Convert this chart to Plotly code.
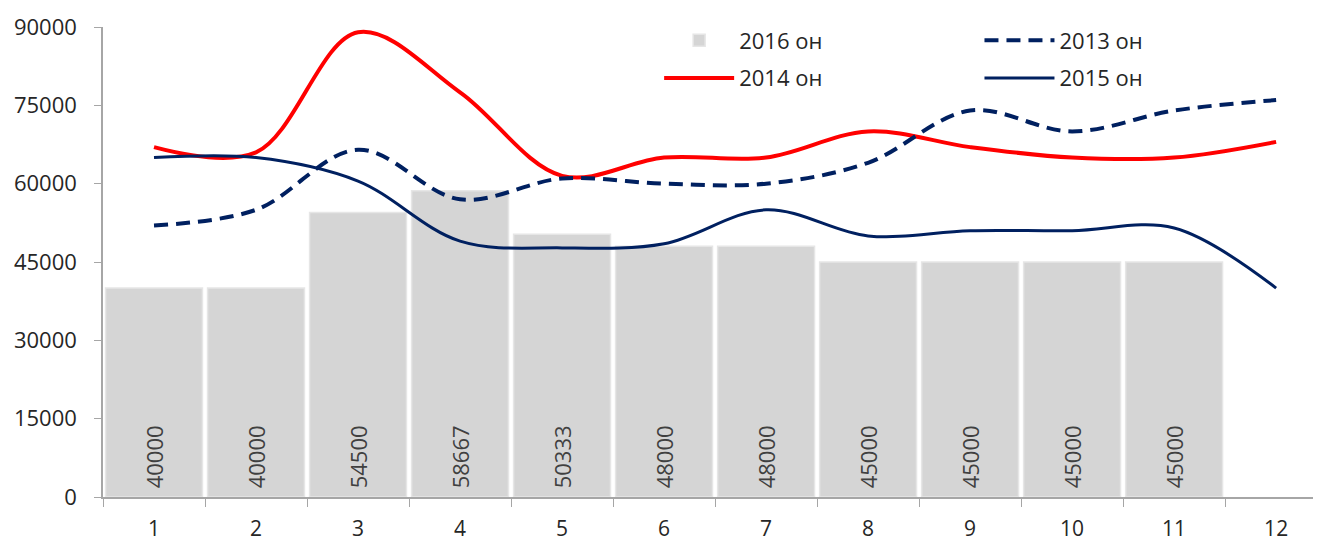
import plotly.graph_objects as go

months = [str(m) for m in range(1, 13)]
bars_2016 = [40000, 40000, 54500, 58667, 50333, 48000, 48000, 45000, 45000, 45000, 45000]
line_2013 = [52000, 55000, 66500, 57000, 61000, 60000, 60000, 64000, 74000, 70000, 74000, 76000]
line_2014 = [67000, 66000, 89000, 77500, 61500, 65000, 65000, 70000, 67000, 65000, 65000, 68000]
line_2015 = [65000, 65000, 60500, 49000, 47700, 48500, 55000, 50000, 51000, 51000, 51500, 40000]
y_ticks = [0, 15000, 30000, 45000, 60000, 75000, 90000]

FONT = "Open Sans"
NAVY = "#002060"
RED = "#ff0000"
TXT = "#262626"

fig = go.Figure()

# leading nbsp lifts the rotated label a little off the axis
fig.add_trace(go.Bar(
    x=months[:len(bars_2016)],
    y=bars_2016,
    name="2016 он",
    marker=dict(color="#d5d5d5", line=dict(color="#e6e6e6", width=1.5)),
    text=["\u00a0" + str(v) for v in bars_2016],
    textposition="inside",
    insidetextanchor="start",
    textangle=-90,
    textfont=dict(family=FONT, size=22, color="#404040"),
    legend="legend",
    legendgroup="a",
))

fig.add_trace(go.Scatter(
    x=months, y=line_2014, name="2014 он", mode="lines",
    line=dict(color=RED, width=4, shape="spline", smoothing=1),
    cliponaxis=False, legend="legend", legendgroup="b",
))

fig.add_trace(go.Scatter(
    x=months, y=line_2013, name="2013 он", mode="lines",
    line=dict(color=NAVY, width=4, dash="14px,8px", shape="spline", smoothing=1),
    cliponaxis=False, legend="legend2", legendgroup="c",
))

fig.add_trace(go.Scatter(
    x=months, y=line_2015, name="2015 он", mode="lines",
    line=dict(color=NAVY, width=3, shape="spline", smoothing=1),
    cliponaxis=False, legend="legend2", legendgroup="d",
))

legend_style = dict(
    font=dict(family=FONT, size=22, color=TXT),
    bgcolor="rgba(0,0,0,0)",
    tracegroupgap=6,
    itemwidth=70,
    yanchor="top",
    xanchor="left",
    y=1.016,
)

# page body has an 8px margin, so the figure is sized to fit the window
fig.update_layout(
    width=1313,
    height=534,
    paper_bgcolor="white",
    plot_bgcolor="white",
    margin=dict(l=95, r=0, t=19, b=45, autoexpand=False),
    font=dict(family=FONT, size=22, color=TXT),
    bargap=0.05,
    legend=dict(x=0.4566, **legend_style),
    legend2=dict(x=0.7196, **legend_style),
    xaxis=dict(
        type="category",
        range=[-0.5, 11.44],
        tickson="boundaries",
        ticks="outside",
        ticklen=8,
        tickcolor="#a6a6a6",
        showline=True,
        linecolor="#a6a6a6",
        linewidth=1.5,
        showgrid=False,
        automargin=False,
        ticklabelstandoff=12,
        tickfont=dict(family=FONT, size=21, color=TXT),
    ),
    yaxis=dict(
        range=[0, 90000],
        tickvals=y_ticks,
        ticktext=[str(v) for v in y_ticks],
        ticks="outside",
        ticklen=7,
        tickcolor="#a6a6a6",
        showline=True,
        linecolor="#a6a6a6",
        linewidth=1.5,
        showgrid=False,
        zeroline=False,
        automargin=False,
        ticklabelstandoff=13,
        tickfont=dict(family=FONT, size=22, color=TXT),
    ),
)

fig.write_html("out.html")
